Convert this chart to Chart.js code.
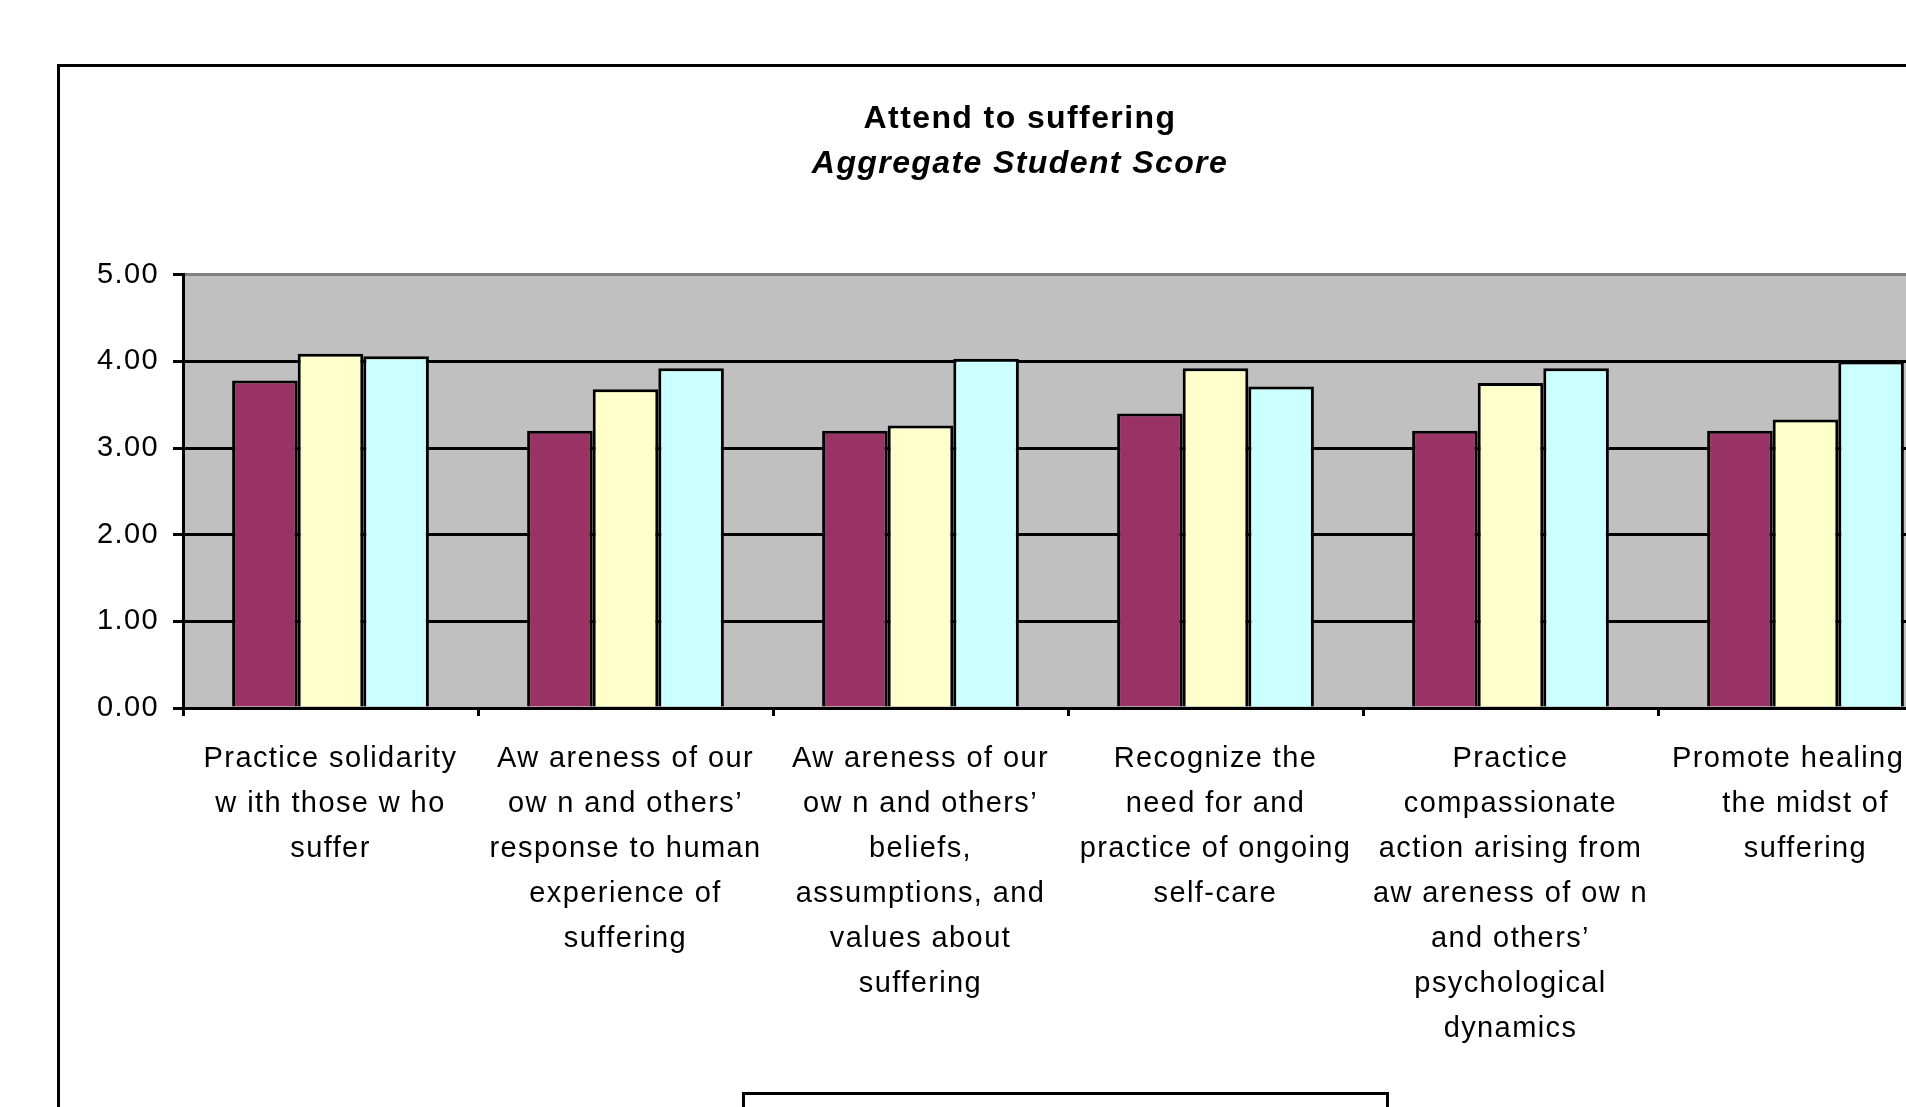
<!DOCTYPE html>
<html>
<head>
<meta charset="utf-8">
<title>Attend to suffering</title>
<script src="https://cdn.jsdelivr.net/npm/chart.js@4.4.1/dist/chart.umd.min.js"></script>
<style>
  html, body { margin: 0; padding: 0; background: #fff; overflow: hidden; }
  #wrap { position: absolute; left: 0; top: 0; }
</style>
</head>
<body>
<div id="wrap"><canvas id="scoreChart" width="1990" height="1160"></canvas></div>
<script>
// category labels, already broken into lines the way the chart wraps them
const categories = [
    ['Practice solidarity', 'w ith those w ho', 'suffer'],
    ['Aw areness of our', 'ow n and others\u2019', 'response to human', 'experience of', 'suffering'],
    ['Aw areness of our', 'ow n and others\u2019', 'beliefs,', 'assumptions, and', 'values about', 'suffering'],
    ['Recognize the', 'need for and', 'practice of ongoing', 'self-care'],
    ['Practice', 'compassionate', 'action arising from', 'aw areness of ow n', 'and others\u2019', 'psychological', 'dynamics'],
    ['Promote healing in', 'the midst of', 'suffering']
];

const seriesNames = ['Series1', 'Series2', 'Series3'];
const series1 = [3.78, 3.20, 3.20, 3.40, 3.20, 3.20];
const series2 = [4.09, 3.68, 3.26, 3.92, 3.75, 3.33];
const series3 = [4.06, 3.92, 4.03, 3.71, 3.92, 4.00];

const yMin = 0;
const yMax = 5;
const yStep = 1;

const titleText = 'Attend to suffering';
const subtitleText = 'Aggregate Student Score';

const FONT = '"Liberation Sans", Arial, sans-serif';
const LETTER_SPACING = '1.4px';

// the pdf text is a bit spread out, so widen the glyph spacing a little
const spacingPlugin = {
    id: 'spacing',
    beforeLayout(chart) { chart.ctx.letterSpacing = LETTER_SPACING; },
    beforeDraw(chart) { chart.ctx.letterSpacing = LETTER_SPACING; }
};

// white page, outer chart frame, grey plot area, frame round the legend
const framePlugin = {
    id: 'frame',
    beforeDraw(chart) {
        const {ctx, chartArea, width, height} = chart;
        ctx.save();
        ctx.fillStyle = '#ffffff';
        ctx.fillRect(0, 0, width, height);

        ctx.strokeStyle = '#000000';
        ctx.lineWidth = 3;
        ctx.strokeRect(58.5, 65.5, 1924, height);

        ctx.fillStyle = '#c0c0c0';
        ctx.fillRect(chartArea.left, chartArea.top,
            chartArea.right - chartArea.left, chartArea.bottom - chartArea.top);

        const lg = chart.legend;
        ctx.strokeRect(743.5, lg.top + 1.5, 644, lg.height + 20);
        ctx.restore();
    }
};

document.addEventListener('DOMContentLoaded', () => {
    const ctx = document.getElementById('scoreChart').getContext('2d');

    const data = {
        labels: categories,
        datasets: [
            { label: seriesNames[0], data: series1, backgroundColor: '#993366' },
            { label: seriesNames[1], data: series2, backgroundColor: '#ffffcc' },
            { label: seriesNames[2], data: series3, backgroundColor: '#ccffff' }
        ].map(ds => Object.assign(ds, {
            borderColor: '#000000',
            borderWidth: 3,
            borderSkipped: 'bottom',
            categoryPercentage: 0.667,
            barPercentage: 1.0
        }))
    };

    const config = {
        type: 'bar',
        data: data,
        options: {
            responsive: false,
            animation: false,
            layout: {
                padding: { left: 87, right: 37, top: 0, bottom: 6 }
            },
            plugins: {
                title: {
                    display: true,
                    text: titleText,
                    color: '#000',
                    font: { family: FONT, size: 32, weight: 'bold', lineHeight: 1.2 },
                    padding: { top: 100, bottom: 0 }
                },
                subtitle: {
                    display: true,
                    text: subtitleText,
                    color: '#000',
                    font: { family: FONT, size: 32, weight: 'bold', style: 'italic', lineHeight: 1.2 },
                    padding: { top: 7, bottom: 91 }
                },
                legend: {
                    display: true,
                    position: 'bottom',
                    labels: {
                        color: '#000',
                        font: { family: FONT, size: 28 },
                        padding: 24
                    }
                },
                tooltip: { enabled: false }
            },
            scales: {
                x: {
                    offset: true,
                    border: { display: true, color: '#000', width: 3 },
                    grid: {
                        display: true,
                        offset: true,
                        drawOnChartArea: false,
                        drawTicks: true,
                        tickLength: 8,
                        color: '#000',
                        lineWidth: 3
                    },
                    ticks: {
                        color: '#000',
                        font: { family: FONT, size: 29, lineHeight: 1.552 },
                        padding: 20,
                        maxRotation: 0,
                        minRotation: 0,
                        autoSkip: false
                    },
                    afterFit(scale) { scale.height = 384; }
                },
                y: {
                    min: yMin,
                    max: yMax,
                    border: { display: true, color: '#000', width: 3 },
                    grid: {
                        color: c => (c.tick && c.tick.value === yMax) ? '#808080' : '#000000',
                        tickColor: '#000000',
                        lineWidth: 3,
                        tickLength: 10
                    },
                    ticks: {
                        stepSize: yStep,
                        color: '#000',
                        font: { family: FONT, size: 29 },
                        padding: 14,
                        callback: v => Number(v).toFixed(2)
                    },
                    afterFit(scale) { scale.width = 96; }
                }
            }
        },
        plugins: [spacingPlugin, framePlugin]
    };

    new Chart(ctx, config);
});
</script>
</body>
</html>
